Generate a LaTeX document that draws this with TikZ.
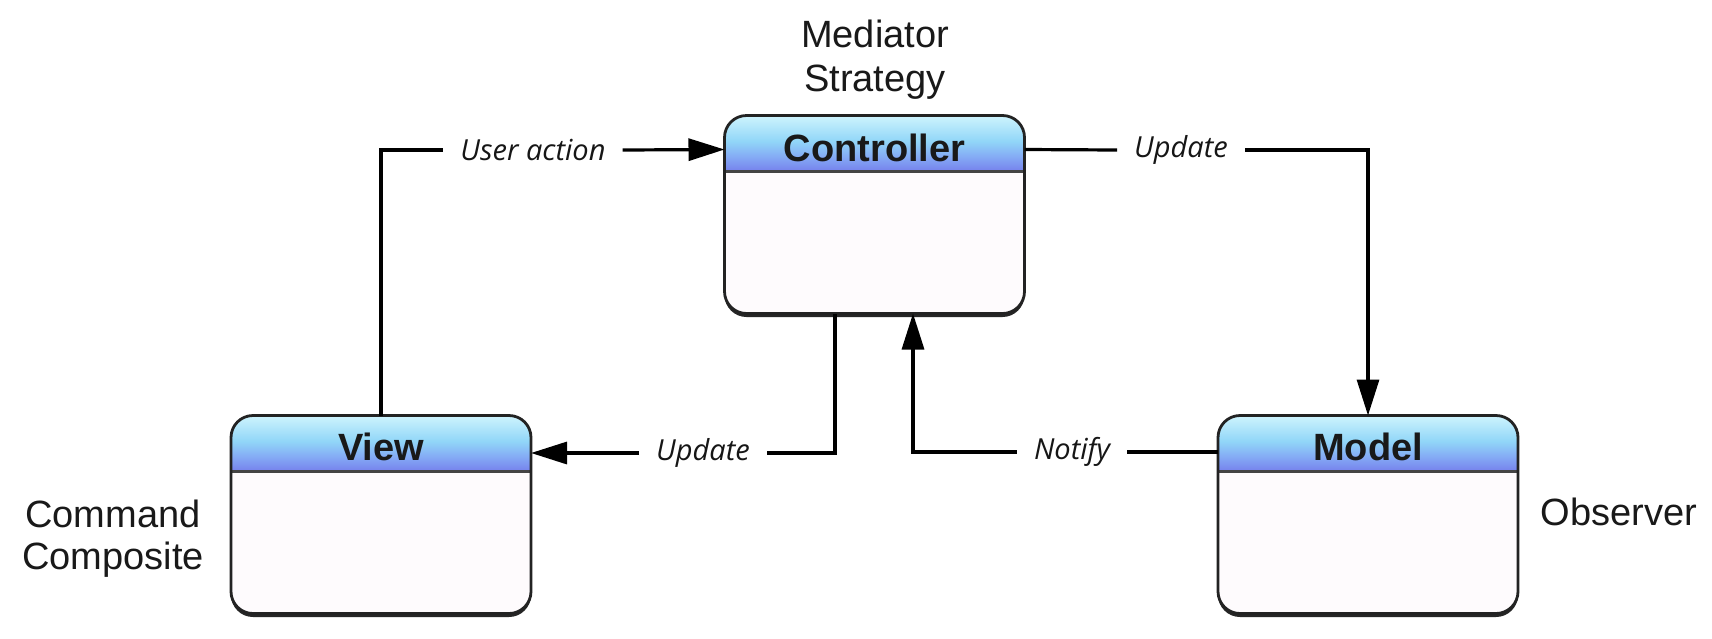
\documentclass[tikz,border=0pt]{standalone}
\usepackage{fontspec}
\setmainfont{Liberation Sans}
\newfontfamily\lblfont{Open Sans}
\usetikzlibrary{arrows.meta,shadows}
\definecolor{hdtop}{RGB}{206,244,253}
\definecolor{hdmid}{RGB}{145,214,248}
\definecolor{hdlow}{RGB}{132,170,245}
\definecolor{hdbot}{RGB}{118,128,236}
\definecolor{bodyc}{RGB}{254,251,253}
\definecolor{edgec}{RGB}{35,35,35}
\definecolor{txtc}{RGB}{25,25,25}
\definecolor{lblc}{RGB}{22,22,22}
\pgfdeclareverticalshading{hdrshade}{100bp}{color(0bp)=(hdbot); color(25bp)=(hdbot); color(38bp)=(hdlow); color(52bp)=(hdmid); color(75bp)=(hdtop); color(100bp)=(hdtop)}
\tikzset{
  box/.style={minimum width=300pt, minimum height=198pt, inner sep=0pt, outer sep=0pt,
    rounded corners=22pt, fill=bodyc,
    drop shadow={shadow xshift=0pt, shadow yshift=-3.5pt, opacity=0.85, fill=black}},
  boxedge/.style={draw=edgec, line width=2.8pt, rounded corners=22pt},
  sepline/.style={draw=edgec!85, line width=2.4pt},
  boxtitle/.style={anchor=base, inner sep=0pt, text=txtc,
    font=\fontsize{38}{40}\selectfont\bfseries},
  pat/.style={anchor=base, inner sep=0pt, text=txtc,
    font=\fontsize{38}{40}\selectfont},
  lbl/.style={inner xsep=17pt, inner ysep=2pt, text=lblc,
    font=\lblfont\itshape\fontsize{29}{31}\selectfont},
  plain/.style={draw=black, line width=3.2pt},
  arr/.style={plain, -{Triangle[length=36pt,width=22pt]}},
}
\newcommand{\mvcheader}[1]{%
  \begin{scope}
    \clip[rounded corners=22pt] (#1.north west) rectangle (#1.south east);
    \shade[shading=hdrshade] (#1.north west) rectangle ([yshift=-56pt]#1.north east);
  \end{scope}
  \draw[sepline] ([yshift=-56pt]#1.north west) -- ([yshift=-56pt]#1.north east);
  \draw[boxedge] (#1.north west) rectangle (#1.south east);
}
\begin{document}
\begin{tikzpicture}[x=1pt,y=-1pt]
\fill[white] (0,0) rectangle (1712,638);
\useasboundingbox (0,0) rectangle (1712,638);

% boxes
\node[box] (ctrl) at (874.5,214.5) {};
\node[box] (view) at (381,514.5) {};
\node[box] (model) at (1368,514.5) {};
\mvcheader{ctrl}
\mvcheader{view}
\mvcheader{model}

\node[boxtitle] (ctrlt) at ([yshift=-46pt]ctrl.north) {Controller};
\node[boxtitle] (viewt) at ([yshift=-45pt]view.north) {View};
\node[boxtitle] (modelt) at ([yshift=-45pt]model.north) {Model};

% pattern names
\node[pat] (med) at (875,47) {Mediator};
\node[pat] (str) at (875,91) {Strategy};
\node[pat] (cmd) at (113,527) {Command};
\node[pat] (cmp) at (113,569) {Composite};
\node[pat] (obs) at (1619,525) {Observer};

% connector labels
\node[lbl] (l1) at (533,150) {User action};
\node[lbl] (l2) at (1181,150) {Update};
\node[lbl] (l3) at (703,453) {Update};
\node[lbl] (l4) at (1072,452) {Notify};

% anchor points on the controller
\coordinate (ua) at ([yshift=-34pt]ctrl.north west);
\coordinate (ue) at ([yshift=-34pt]ctrl.north east);
\coordinate (cb1) at ([xshift=-39.5pt]ctrl.south);
\coordinate (cb2) at ([xshift=38.5pt]ctrl.south);

% connectors
\draw[plain] (view.north) |- (l1.west);
\draw[arr] (l1.east) -- (ua);
\draw[plain] (ue) -- (l2.west);
\draw[arr] (l2.east) -| (model.north);
\draw[plain] (cb1) |- (l3.east);
\draw[arr] (l3.west) -- (view.east |- l3.west);
\draw[plain] (model.west |- l4.east) -- (l4.east);
\draw[arr] (l4.west) -| (cb2);
\end{tikzpicture}
\end{document}
